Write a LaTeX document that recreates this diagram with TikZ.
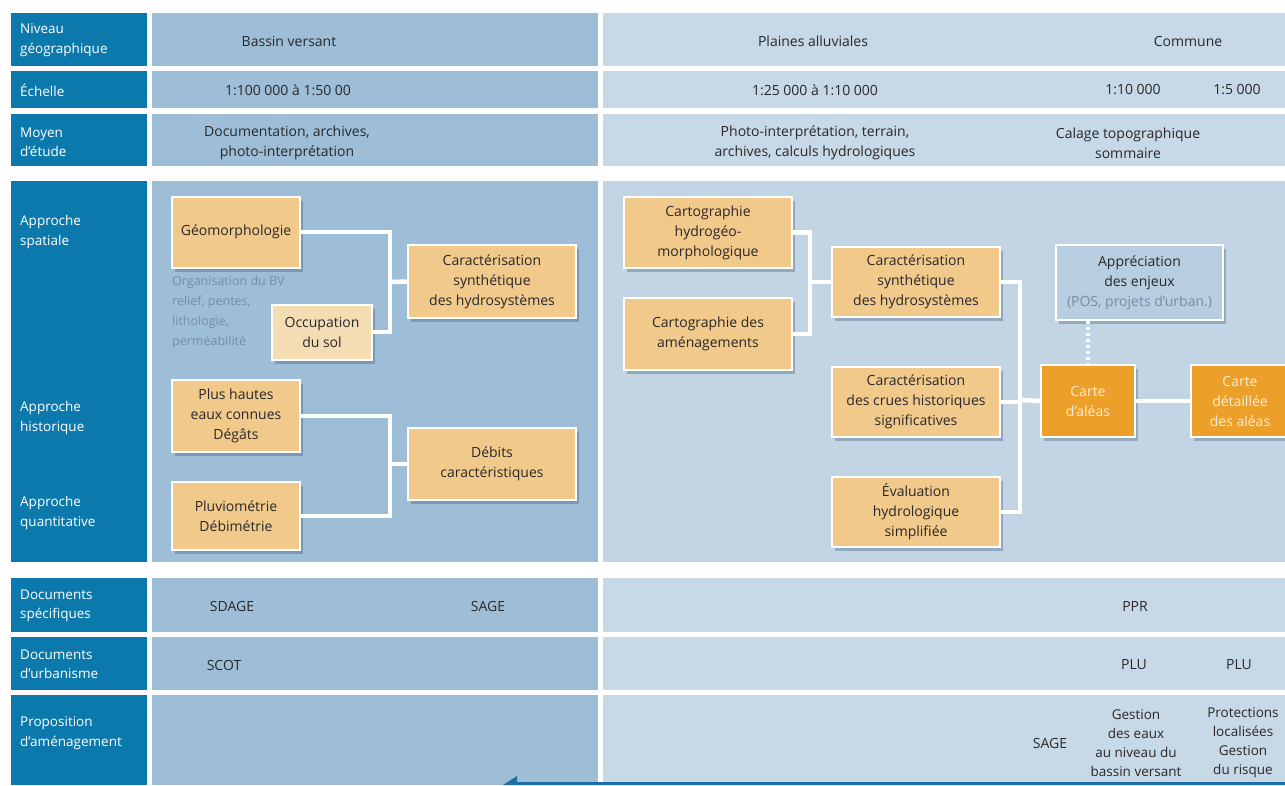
\documentclass[tikz,border=0pt]{standalone}
\usepackage{fontspec}
\setmainfont{Open Sans}
\usetikzlibrary{shadows}
\definecolor{lblue}{RGB}{12,121,172}
\definecolor{leftbg}{RGB}{158,190,215}
\definecolor{rightbg}{RGB}{199,216,230}
\definecolor{mainright}{RGB}{195,213,228}
\definecolor{boxor}{RGB}{241,201,138}
\definecolor{boxpale}{RGB}{244,221,178}
\definecolor{boxdark}{RGB}{236,160,42}
\definecolor{boxappr}{RGB}{183,206,224}
\definecolor{txtcol}{RGB}{42,40,42}
\definecolor{notecol}{RGB}{118,142,166}
\definecolor{shadowcol}{RGB}{40,70,100}
\definecolor{linecol}{RGB}{30,110,165}
\definecolor{darktxt}{RGB}{252,238,214}
\tikzset{
  lab/.style={anchor=west, align=left, text=white, font=\fontsize{13.5}{19.5}\selectfont, inner sep=0pt},
  txt/.style={align=center, text=txtcol, font=\fontsize{14}{20}\selectfont, inner sep=0pt},
  note/.style={anchor=north west, align=left, text=notecol, font=\fontsize{12.5}{20}\selectfont, inner sep=0pt},
  box/.style={draw=white, line width=2pt, fill=boxor, align=center, text=txtcol,
    font=\fontsize{14}{20}\selectfont, inner sep=0pt,
    drop shadow={shadow xshift=3pt, shadow yshift=-4pt, opacity=0.3, fill=shadowcol}},
  conn/.style={draw=white, line width=4.5pt},
  dotconn/.style={draw=white, line width=4pt, dash pattern=on 3pt off 3pt},
}
\begin{document}
\begin{tikzpicture}[x=1pt,y=-1pt]
\useasboundingbox (0,0) rectangle (1285,785);
\fill[white] (0,0) rectangle (1285,785);
% label column and content bands
\foreach \a/\b in {13/66,71/108,114/166,181/562,578/632,637/690,695/785}{
  \fill[lblue] (11,\a) rectangle (147,\b);
  \fill[leftbg] (152,\a) rectangle (598,\b);
  \fill[rightbg] (603,\a) rectangle (1285,\b);
}
\fill[mainright] (603,181) rectangle (1285,562);
% bottom line
\fill[linecol] (503,785) -- (517,776) -- (517,782) -- (1285,782) -- (1285,785) -- cycle;

% labels
\node[lab] (l1) at (20,40) {Niveau\\géographique};
\node[lab] (l2) at (20,90) {Échelle};
\node[lab] (l3) at (20,142) {Moyen\\d'étude};
\node[lab] (l4) at (20,232) {Approche\\spatiale};
\node[lab] (l5) at (20,418) {Approche\\historique};
\node[lab] (l6) at (20,513) {Approche\\quantitative};
\node[lab] (l7) at (20,606) {Documents\\spécifiques};
\node[lab] (l8) at (20,664) {Documents\\d'urbanisme};
\node[lab] (l9) at (20,733) {Proposition\\d'aménagement};

% header texts
\node[txt] (t1) at (289,41) {Bassin versant};
\node[txt] (t2) at (813,41) {Plaines alluviales};
\node[txt] (t3) at (1188,41) {Commune};
\node[txt] (t4) at (288,90) {1:100 000 à 1:50 00};
\node[txt] (t5) at (815,90) {1:25 000 à 1:10 000};
\node[txt] (t6) at (1133,90) {1:10 000};
\node[txt] (t7) at (1237,90) {1:5 000};
\node[txt] (t8) at (287,143) {Documentation, archives,\\photo-interprétation};
\node[txt] (t9) at (815,143) {Photo-interprétation, terrain,\\archives, calculs hydrologiques};
\node[txt] (t10) at (1128,143) {Calage topographique\\sommaire};

% bottom texts
\node[txt] (b1) at (232,606) {SDAGE};
\node[txt] (b2) at (488,606) {SAGE};
\node[txt] (b3) at (1135,606) {PPR};
\node[txt] (b4) at (224,665) {SCOT};
\node[txt] (b5) at (1134,665) {PLU};
\node[txt] (b6) at (1239,665) {PLU};
\node[txt] (b7) at (1050,743) {SAGE};
\node[txt, font=\fontsize{13.5}{19}\selectfont] (b8) at (1136,743) {Gestion\\des eaux\\au niveau du\\bassin versant};
\node[txt, font=\fontsize{13.5}{19}\selectfont] (b9) at (1243,743) {Protections\\localisées\\Gestion\\du risque};

% junction points
\coordinate (jA) at (390,282);
\coordinate (jB) at (390,464);
\coordinate (jC) at (810,282);
\coordinate (jD) at (1020,400);

% note text
\node[note] (nt) at (172,276) {Organisation du BV\\relief, pentes,\\lithologie,\\perméabilité};

% left boxes
\node[box, minimum width=128pt, minimum height=71pt] (geo) at (236,232) {Géomorphologie};
\node[box, fill=boxpale, minimum width=100pt, minimum height=55pt] (occ) at (322,332) {Occupation\\du sol};
\node[box, minimum width=168pt, minimum height=73pt] (car1) at (492,281.5) {Caractérisation\\synthétique\\des hydrosystèmes};
\node[box, minimum width=128pt, minimum height=72pt] (phe) at (236,416) {Plus hautes\\eaux connues\\Dégâts};
\node[box, minimum width=128pt, minimum height=68pt] (pluv) at (236,516) {Pluviométrie\\Débimétrie};
\node[box, minimum width=168pt, minimum height=72pt] (deb) at (492,464) {Débits\\caractéristiques};

% right boxes
\node[box, minimum width=168pt, minimum height=71pt] (cah) at (708,232.5) {Cartographie\\hydrogéo-\\morphologique};
\node[box, minimum width=168pt, minimum height=72pt] (caa) at (708,334) {Cartographie des\\aménagements};
\node[box, minimum width=168pt, minimum height=70pt] (car2) at (916,282) {Caractérisation\\synthétique\\des hydrosystèmes};
\node[box, minimum width=168pt, minimum height=70pt] (cru) at (916,402) {Caractérisation\\des crues historiques\\significatives};
\node[box, minimum width=168pt, minimum height=70pt] (eva) at (916,512) {Évaluation\\hydrologique\\simplifiée};
\node[box, fill=boxappr, minimum width=167pt, minimum height=75pt] (appr) at (1139.5,282.5) {Appréciation\\des enjeux\\{\color{notecol}(POS, projets d'urban.)}};
\node[box, fill=boxdark, text=darktxt, minimum width=94pt, minimum height=72pt] (alea) at (1088,401) {Carte\\d'aléas};
\node[box, fill=boxdark, text=darktxt, minimum width=98pt, minimum height=72pt] (det) at (1240,401) {Carte\\détaillée\\des aléas};

% connectors
\draw[conn] (geo.east) -| (jA) |- (occ.east);
\draw[conn] (jA) -- (car1.west);
\draw[conn] (phe.east) -| (jB) |- (pluv.east);
\draw[conn] (jB) -- (deb.west);
\draw[conn] (cah.east) -| (jC) |- (caa.east);
\draw[conn] (jC) -- (car2.west);
\draw[conn] (car2.east) -| (jD) |- (eva.east);
\draw[conn] (cru.east) -- (cru.east -| jD);
\draw[conn] (jD) -- (alea.west);
\draw[conn] (alea.east) -- (det.west);
\draw[dotconn] (appr.south -| alea.north) -- (alea.north);
\end{tikzpicture}
\end{document}
